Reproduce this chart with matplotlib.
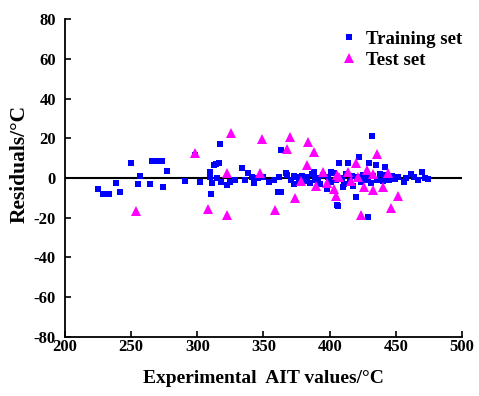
import matplotlib
matplotlib.use("Agg")
import matplotlib.pyplot as plt

plt.rcParams['font.family'] = ['Liberation Serif', 'DejaVu Serif']
plt.rcParams['font.weight'] = 'bold'
plt.rcParams['axes.unicode_minus'] = False

# zbior treningowy: (wartosc doswiadczalna AIT, reszta)
train_x = [225, 229, 233, 238.6, 241.7, 249.8, 256.8, 255.5, 264.6, 266, 269.4, 273.2, 277, 273.7,
           290.4, 298.5, 301.7, 309.3, 309.8, 311, 310.6, 312.4, 314.4, 315, 316, 316.9, 318, 322.5,
           325, 328.8, 333.8, 336, 338.6, 341.4, 342.7, 346, 350, 354, 358, 360.8, 361.6, 363.6, 363,
           366.7, 368, 371, 373, 373, 375, 377, 379, 381, 383, 385, 387, 388, 389, 391, 393, 395,
           397.7, 398.2, 399, 400.8, 401, 403, 405, 405.8, 406.3, 407.3, 409, 410, 411, 412, 414,
           415, 417, 418, 420.2, 421, 422, 424, 425, 427, 429, 429.3, 430, 431, 432, 433, 434.8,
           436, 438, 440, 441, 441.9, 443, 445, 447, 449, 452, 455.8, 458, 461.4, 464, 466.4, 470,
           472, 474]
train_y = [-5.5, -8, -8, -2.3, -7.2, 7.7, 1, -3.2, -3.2, 8.7, 8.7, 8.7, 3.7, -4.4,
           -1.4, 11.6, -2.2, 0.3, 3.2, -2.3, -8, 6.5, 7.0, 0, 7.4, 17, -1.8, -3.5,
           -2, -1, 4.9, -1, 2.3, 0.7, -2.7, 0, 0.3, -1.8, -1, -6.9, 0.7, 13.9, -6.9,
           2.4, 1.5, -1, 1, -3, 0.5, -2, 1, -1.5, 0.5, -2.5, 2, 3.2, -1, 0, -3, 1.5,
           -5.7, -5.2, 0.5, 3.2, -2, 2.5, -1, -13.6, -13.9, 7.4, 0, -4.4, -3, 2, 7.4,
           -1.5, 1, -4, -9.7, 0.5, 10.4, -2, 1.5, -1, 0.5, -19.8, 7.4, -2.5, 21.3, 1, 6.5,
           -1, 2, -1.5, 1.5, 5.7, 0.5, -1, 1, -0.5, 0.7, -1.8, 0, 2, 0.5, -1, 2.9,
           0, -0.5]

# zbior testowy
test_x = [253.5, 298, 307.8, 322.7, 322.7, 325.8, 347.7, 349, 358.7, 368, 370, 374, 378, 383,
          384, 388, 390, 395.2, 398, 403.3, 405, 405.8, 407, 414, 416, 420, 421.4, 424, 426,
          428, 433, 433, 436, 440, 444, 446, 452]
test_y = [-16.6, 12.4, -15.5, 2.3, -18.8, 22.8, 2.7, 19.6, -16, 14.6, 20.4, -9.9, -1.3, 6.5,
          18.3, 12.9, -4, 3.2, -2.5, -5.7, -8.9, 1.5, 0.7, 3.2, -1.3, 7.6, 0.7, -18.8, -4.7,
          4.2, 1.9, -6.1, 12.3, -4.6, 2.7, -15.1, -9]

xticks = [200, 250, 300, 350, 400, 450, 500]
yticks = [-80, -60, -40, -20, 0, 20, 40, 60, 80]

fig = plt.figure(figsize=(4.79, 3.96), dpi=100)
ax = fig.add_axes([0.1357, 0.149, 0.8288, 0.803])

ax.axhline(0, color='black', lw=1.5, zorder=1)
ax.plot(train_x, train_y, 's', color='#0000ff', markersize=4.6, markeredgewidth=0,
        label='Training set', zorder=2)
ax.plot(test_x, test_y, '^', color='#ff00ff', markersize=6.5, markeredgewidth=0,
        label='Test set', zorder=3)

ax.set_xlim(200, 500)
ax.set_ylim(-80, 80)
ax.set_xticks(xticks)
ax.set_yticks(yticks)
ax.spines['top'].set_visible(False)
ax.spines['right'].set_visible(False)
ax.spines['left'].set_linewidth(1.3)
ax.spines['bottom'].set_linewidth(1.3)
ax.tick_params(direction='in', length=4, width=1.2, labelsize=12)
ax.tick_params(axis='x', pad=1.5)
ax.tick_params(axis='y', pad=6.5)
for lab in ax.get_xticklabels() + ax.get_yticklabels():
    lab.set_fontweight('bold')

ax.set_xlabel('Experimental  AIT values/°C', fontsize=14, fontweight='bold', labelpad=11)
ax.set_ylabel('Residuals/°C', fontsize=15.5, fontweight='bold')
ax.yaxis.set_label_coords(-0.088, 0.545)

ax.legend(loc='upper left', bbox_to_anchor=(0.655, 1.005), frameon=False,
          handletextpad=0.3, handlelength=1.2, labelspacing=0.2, borderpad=0.2,
          prop={'weight': 'bold', 'size': 13.5})

fig.savefig('out.png', dpi=100)
